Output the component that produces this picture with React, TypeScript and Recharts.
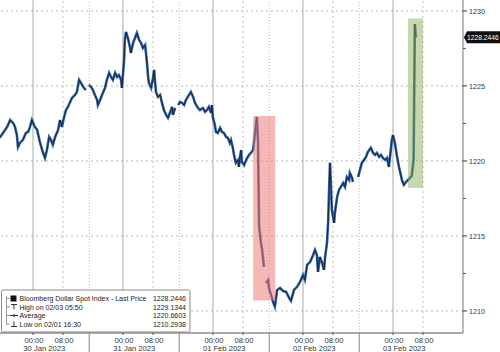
import {
  LineChart,
  Line,
  XAxis,
  YAxis,
  ReferenceLine,
  ReferenceArea,
} from 'recharts';

// hours since 30 Jan 2023 00:00
const HOURS = [
  -8.9, -8.0, -6.9, -6.1, -5.3, -4.8, -4.3, -4.0, -3.5, -2.7, -1.9, -1.3, -0.8, -0.3,
  0.5, 1.1, 1.9, 2.7, 3.2, 3.7, 4.3, 4.8, 5.3, 5.9, 6.7, 7.2, 7.7, 8.3, 8.8, 9.3, 9.9,
  10.4, 11.2, 11.7, 12.3, 13.1, 13.6, 14.1, 14.5, 14.9, 15.5, 16.0, 16.5, 17.1, 17.3,
  17.9, 18.4, 19.2, 19.7, 20.3, 20.8, 21.3, 21.9, 22.4, 22.9, 23.5, 23.7,
  24.3, 24.5, 24.8, 25.3, 25.9, 26.1, 26.7, 27.2, 27.7, 28.3, 28.8, 29.3, 29.9, 30.1,
  30.4, 30.7, 30.9, 31.5, 32.0, 32.3, 32.5, 32.8, 33.3, 33.9, 34.4, 34.9, 35.5, 36.0,
  36.5, 37.1, 37.3, 37.9, 38.2, 38.7, 39.2, 39.7, 40.3, 40.8, 41.6, 42.1, 42.7, 43.2,
  44.0, 44.5, 45.3, 45.9, 46.4, 46.9, 47.5, 47.7,
  48.0, 48.5, 48.8, 49.3, 49.9, 50.4, 50.9, 51.5, 52.0, 52.5, 52.8, 53.3, 53.6, 54.1,
  54.7, 54.9, 55.2, 55.5, 55.7, 56.3, 56.5, 57.1, 57.6, 58.1, 58.7, 59.2, 59.5, 59.7,
  60.0, 60.3, 60.5, 60.8, 61.1, 61.3, 61.6, 61.9, 62.1, 62.7, 62.9, 63.2, 63.7, 64.0,
  64.5, 65.1, 65.9, 66.7, 67.5, 68.3, 68.8, 69.6, 70.4, 71.2,
  72.0, 72.5, 73.1, 73.9, 74.7, 75.2, 75.7, 76.0, 76.5, 77.1, 77.6, 77.9, 78.4, 78.7,
  78.9, 79.2, 79.5, 79.7, 80.3, 80.5, 81.1, 81.6, 82.1, 82.7, 83.2, 83.7, 84.3, 84.5,
  85.1, 85.3, 86.0, 86.7, 87.2, 87.7, 88.3, 88.8, 89.3, 90.1, 90.7, 91.2, 91.7, 92.3,
  92.8, 93.3, 93.9, 94.4, 94.9, 95.5, 95.7,
  96.0, 96.5, 97.1, 97.6, 97.9, 98.4, 98.9, 99.5, 100.0, 100.5, 101.0, 101.5, 101.83, 102.1,
];

const PRICES: (number | null)[] = [
  1221.55, 1221.87, 1222.27, 1222.73, 1222.53, 1222.27, 1221.73, 1220.93, 1221.20, 1221.40, 1221.87, 1221.93, 1222.27, 1222.73,
  1222.27, 1222.07, 1221.20, 1220.53, 1220.20, 1220.73, 1221.60, 1221.40, 1221.07, 1221.60, 1222.07, 1222.73, 1222.27, 1222.93, 1223.40, 1223.60, 1223.93,
  1224.20, 1224.40, 1224.60, 1225.40, 1225.07, 1224.87, 1224.73, null, 1225.07, 1224.93, 1224.73, 1224.40, 1224.07, 1223.73,
  1224.07, 1224.40, 1224.87, 1225.40, 1225.87, 1225.60, 1225.40, 1225.87, 1225.60, 1225.73, 1225.40, 1224.87,
  1226.73, 1228.07, 1228.60, 1228.20, 1227.53, 1227.20, 1227.87, 1228.20, 1228.53, 1228.07, 1227.87, 1227.53, 1227.73, 1227.27,
  1226.53, 1225.60, 1225.20, 1224.87, 1225.53, 1226.07, 1225.40, 1224.60, 1224.27, 1224.40, 1223.87, 1223.40, 1223.07, 1222.87,
  1223.20, 1223.60, 1223.07, 1223.53, null, 1223.73, 1223.93, 1223.87, 1223.73, 1224.07, 1224.40, 1224.60, 1224.27, 1223.87,
  1223.53, 1223.40, 1223.53, 1223.27, 1223.40, 1223.60, 1223.20, 1223.73,
  1222.87, 1222.40, 1221.93, 1221.87, 1222.20, 1221.93, 1221.87, 1221.60, 1221.53, 1221.20, 1221.40, 1220.87, 1220.40, 1219.87,
  1220.07, 1219.60, 1220.27, 1220.73, 1219.93, 1219.73, 1219.87, 1220.20, 1220.40, 1220.53, 1220.73, 1221.87, 1222.53, 1222.93,
  1221.40, 1215.60, 1215.20, 1214.53, 1214.07, 1213.60, 1212.93, null, 1211.87, 1212.07, 1211.60, 1211.27, 1210.93, 1210.60,
  1210.29, 1211.40, 1211.53, 1211.33, 1211.27, 1210.87, 1210.67, 1211.40, 1211.60, 1211.93,
  1212.40, 1212.07, 1213.07, 1213.27, 1213.73, 1214.07, 1213.73, 1212.60, 1213.60, 1213.20, 1212.73, 1213.60, 1214.53, 1215.87,
  1217.60, 1219.87, 1218.07, 1216.73, 1215.87, 1216.53, 1217.60, 1218.07, 1218.27, 1218.53, 1218.27, 1218.93, 1218.73, 1219.20,
  1218.87, 1218.60, null, 1218.93, 1219.40, 1219.87, 1220.07, 1220.27, 1220.60, 1220.87, 1220.53, 1220.40, 1220.53, 1220.27,
  1220.40, 1220.20, 1220.07, 1220.20, 1219.60, 1220.93, 1221.40,
  1221.73, 1221.20, 1220.27, 1219.60, 1219.27, 1218.73, 1218.40, 1218.60, 1218.73, 1218.87, 1219.00, 1220.10, 1229.13, 1228.24,
];

const TIME_TICKS = [0, 8, 24, 32, 48, 56, 72, 80, 96, 104];
const DAY_BREAKS = [15, 39, 63, 87];
const DAY_LABEL_HOURS = [3, 27, 51, 75, 99];
const DAY_LABELS = ['30 Jan 2023', '31 Jan 2023', '01 Feb 2023', '02 Feb 2023', '03 Feb 2023'];

const Y_MAJOR = [1210, 1215, 1220, 1225, 1230];
const Y_MINOR = [1212.5, 1217.5, 1222.5, 1227.5];

const LAST_PRICE = 1228.2446;
const HIGH = 1229.1344;
const AVERAGE = 1220.6603;
const LOW = 1210.2938;

// highlighted windows [x1, x2, y1, y2]
const RED_BOX = [58.7, 64.6, 1210.7, 1223.0];
const GREEN_BOX = [100.0, 104.0, 1218.2, 1229.5];

const FONT = '"Liberation Sans", Arial, sans-serif';

const data = HOURS.map((h, i) => ({ h, price: PRICES[i] }));

function XTick({ x, y, payload }: any) {
  const v = payload.value;
  const di = DAY_LABEL_HOURS.indexOf(v);
  if (di >= 0) {
    return (
      <text x={x} y={y + 18} textAnchor="middle" fontSize={7.6} fill="#333" fontFamily={FONT}>
        {DAY_LABELS[di]}
      </text>
    );
  }
  if (DAY_BREAKS.includes(v)) {
    return <line x1={x} x2={x} y1={y} y2={y + 20} stroke="#999" strokeWidth={1.2} />;
  }
  return (
    <g>
      <line x1={x} x2={x} y1={y} y2={y + 2} stroke="#555" />
      <text x={x + 1} y={y + 10} textAnchor="middle" fontSize={7.6} fill="#333" fontFamily={FONT}>
        {v % 24 === 0 ? '00:00' : '08:00'}
      </text>
    </g>
  );
}

function YTick({ x, y, payload }: any) {
  const v = payload.value;
  if (v === LAST_PRICE) {
    return (
      <g>
        <path d={`M${x + 1},${y} L${x + 4},${y - 6} L${x + 37},${y - 6} L${x + 37},${y + 6} L${x + 4},${y + 6} Z`} fill="#111" />
        <text x={x + 4} y={y + 2.5} fontSize={6.7} fill="#fff" fontFamily={FONT}>
          {LAST_PRICE.toFixed(4)}
        </text>
      </g>
    );
  }
  if (Y_MINOR.includes(v)) {
    return <line x1={x} x2={x + 3} y1={y} y2={y} stroke="#555" />;
  }
  return (
    <g>
      <line x1={x} x2={x + 4} y1={y} y2={y} stroke="#333" />
      <text x={x + 6} y={y + 2.6} fontSize={7.2} fill="#333" fontFamily={FONT}>
        {v}
      </text>
    </g>
  );
}

function LegendBox() {
  const rows = [
    { label: 'Bloomberg Dollar Spot Index - Last Price', value: LAST_PRICE, y: 301 },
    { label: 'High on 02/03 05:50', value: HIGH, y: 309.5 },
    { label: 'Average', value: AVERAGE, y: 318 },
    { label: 'Low on 02/01 16:30', value: LOW, y: 326.5 },
  ];
  return (
    <svg width={500} height={352} style={{ position: 'absolute', left: 0, top: 0, pointerEvents: 'none' }}>
      <rect x={1.5} y={290} width={188.5} height={42} fill="#fff" stroke="#8a8a8a" rx={1.5} />
      {/* tree */}
      <line x1={6.5} x2={6.5} y1={296} y2={325} stroke="#999" />
      {rows.map((r) => (
        <line key={r.y} x1={6.5} x2={10} y1={r.y - 2.5} y2={r.y - 2.5} stroke="#999" />
      ))}
      <rect x={10.5} y={295.5} width={6} height={6} fill="#111" />
      {/* high icon */}
      <line x1={11} x2={17} y1={304.5} y2={304.5} stroke="#333" />
      <line x1={14} x2={14} y1={304.5} y2={309.5} stroke="#333" />
      {/* average icon */}
      <line x1={10} x2={18} y1={315.5} y2={315.5} stroke="#333" />
      <line x1={14} x2={14} y1={314} y2={317} stroke="#333" />
      {/* low icon */}
      <line x1={14} x2={14} y1={321.5} y2={326.5} stroke="#333" />
      <line x1={11} x2={17} y1={326.5} y2={326.5} stroke="#333" />
      {rows.map((r) => (
        <g key={r.label}>
          <text x={19.5} y={r.y} fontSize={7} fill="#222" fontFamily={FONT}>
            {r.label}
          </text>
          <text x={186} y={r.y} fontSize={7} fill="#222" textAnchor="end" fontFamily={FONT}>
            {r.value.toFixed(4)}
          </text>
        </g>
      ))}
    </svg>
  );
}

export default function App() {
  const xTicks = [...TIME_TICKS, ...DAY_BREAKS, ...DAY_LABEL_HOURS].sort((a, b) => a - b);
  const yTicks = [...Y_MAJOR, ...Y_MINOR, LAST_PRICE].sort((a, b) => a - b);
  return (
    <div style={{ position: 'absolute', left: 0, top: 0, width: 500, height: 352, background: '#fff', overflow: 'hidden' }}>
      <LineChart width={500} height={352} data={data} margin={{ top: 0, right: 0, bottom: 0, left: 0 }}>
        <XAxis
          dataKey="h"
          type="number"
          domain={[-8.8, 114.67]}
          allowDataOverflow
          ticks={xTicks}
          interval={0}
          tick={<XTick />}
          tickLine={false}
          tickSize={0}
          tickMargin={0}
          height={19}
          stroke="#555"
        />
        <YAxis
          orientation="right"
          type="number"
          domain={[1208.53, 1230.73]}
          allowDataOverflow
          ticks={yTicks}
          interval={0}
          tick={<YTick />}
          tickLine={false}
          tickSize={0}
          tickMargin={0}
          width={37}
          stroke="#777"
        />
        {Y_MAJOR.map((v) => (
          <ReferenceLine key={`hy${v}`} y={v} stroke="#b8b8b8" strokeDasharray="2 3" />
        ))}
        {TIME_TICKS.map((v) => (
          <ReferenceLine
            key={`vx${v}`}
            x={v}
            stroke={v % 24 === 0 ? '#a8a8a8' : '#c0c0c0'}
            strokeDasharray={v % 24 === 0 ? undefined : '2 3'}
          />
        ))}
        {DAY_BREAKS.map((v) => (
          <ReferenceLine key={`db${v}`} x={v} stroke="#b8b8b8" strokeDasharray="1 2" />
        ))}
        <Line
          dataKey="price"
          type="linear"
          stroke="#2f62a8"
          strokeWidth={2.6}
          dot={false}
          isAnimationActive={false}
        />
        <Line
          dataKey="price"
          type="linear"
          stroke="#111"
          strokeWidth={1}
          strokeOpacity={0.7}
          dot={false}
          isAnimationActive={false}
        />
        <ReferenceArea
          x1={RED_BOX[0]}
          x2={RED_BOX[1]}
          y1={RED_BOX[2]}
          y2={RED_BOX[3]}
          fill="#ee7b7b"
          fillOpacity={0.55}
          stroke="none"
          zIndex={1000}
        />
        <ReferenceArea
          x1={GREEN_BOX[0]}
          x2={GREEN_BOX[1]}
          y1={GREEN_BOX[2]}
          y2={GREEN_BOX[3]}
          fill="#8db25e"
          fillOpacity={0.5}
          stroke="none"
          zIndex={1000}
        />
      </LineChart>
      <LegendBox />
    </div>
  );
}
